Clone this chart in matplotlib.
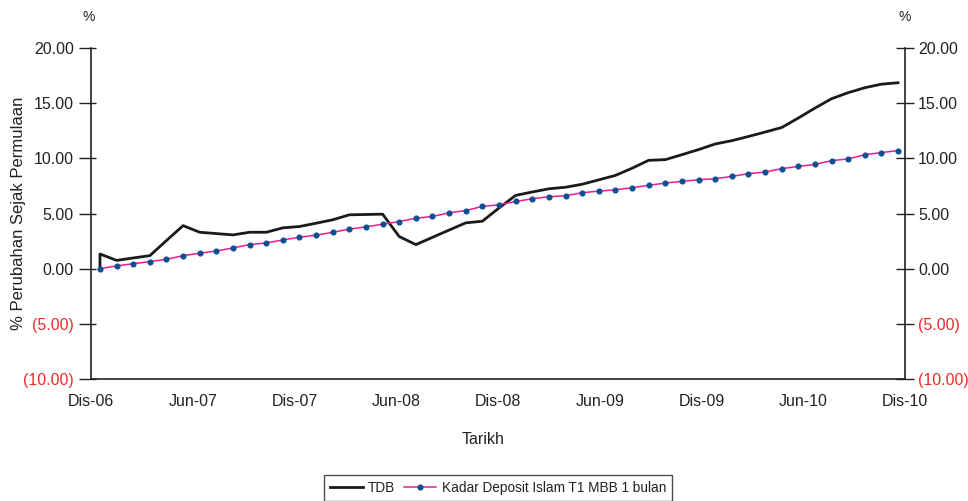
import numpy as np
import matplotlib

matplotlib.use("Agg")
import matplotlib.pyplot as plt
from matplotlib.lines import Line2D
from matplotlib.ticker import FuncFormatter

plt.rcParams["font.family"] = ["Liberation Sans Narrow", "Liberation Sans", "DejaVu Sans"]

# monthly observations, Dis-06 .. Dis-10 (49 months)
TDB_START = 0.0
TDB = [1.33, 0.75, 0.97, 1.18, 2.55, 3.90, 3.30, 3.18, 3.06, 3.30,
       3.30, 3.70, 3.82, 4.12, 4.43, 4.88, 4.91, 4.94, 2.91, 2.18,
       2.84, 3.50, 4.15, 4.30, 5.50, 6.64, 6.95, 7.24, 7.38, 7.65,
       8.05, 8.45, 9.10, 9.82, 9.88, 10.33, 10.79, 11.30, 11.60, 11.98,
       12.38, 12.79, 13.65, 14.55, 15.40, 15.95, 16.40, 16.72, 16.85]
DEPOSIT = [0.00, 0.25, 0.45, 0.64, 0.85, 1.18, 1.40, 1.60, 1.88, 2.18,
           2.33, 2.60, 2.85, 3.03, 3.30, 3.58, 3.79, 4.03, 4.27, 4.57,
           4.73, 5.06, 5.27, 5.64, 5.79, 6.09, 6.33, 6.52, 6.61, 6.88,
           7.03, 7.15, 7.33, 7.56, 7.76, 7.91, 8.06, 8.15, 8.36, 8.61,
           8.76, 9.06, 9.27, 9.45, 9.79, 9.94, 10.33, 10.52, 10.70]
X_LABELS = ["Dis-06", "Jun-07", "Dis-07", "Jun-08", "Dis-08",
            "Jun-09", "Dis-09", "Jun-10", "Dis-10"]
Y_TICKS = [-10, -5, 0, 5, 10, 15, 20]

RED = "#ee2a2a"
TXT = "#222222"
PINK = "#ee1b8c"
BLUE = "#0d4f94"


def fmt(v, pos=None):
    return f"({abs(v):.2f})" if v < 0 else f"{v:.2f}"


def style_ylabels(axis):
    for lab, v in zip(axis.get_yticklabels(), Y_TICKS):
        lab.set_color(RED if v < 0 else TXT)


fig = plt.figure(figsize=(9.68, 5.01), dpi=100)
ax = fig.add_axes([91 / 968, 1 - 379 / 501, (905 - 91) / 968, (379 - 48) / 501])

months = np.arange(len(TDB))
ax.plot(np.r_[0, months], np.r_[TDB_START, TDB], color="#1a1a1a", lw=2.0,
        solid_joinstyle="round", zorder=3)
ax.plot(np.arange(len(DEPOSIT)), DEPOSIT, color=PINK, lw=1.1, marker="o",
        ms=3.4, mfc=BLUE, mec=BLUE, zorder=4)

x_lo, x_hi = -0.54, 48.42
ax.set_xlim(x_lo, x_hi)
ax.set_ylim(-10, 20)
ax.set_xticks(np.linspace(x_lo, x_hi, len(X_LABELS)))
ax.set_xticklabels(X_LABELS)
ax.tick_params(axis="x", length=0, pad=11, labelsize=11.5, labelcolor=TXT)

ax.set_yticks(Y_TICKS)
ax.yaxis.set_major_formatter(FuncFormatter(fmt))
ax.set_yticks(Y_TICKS, minor=True)
ax.yaxis.remove_overlapping_locs = False
ax.tick_params(axis="y", which="major", direction="out", length=8.5, width=1.0,
               pad=4, labelsize=11.5, color=TXT)
ax.tick_params(axis="y", which="minor", direction="in", length=3.6, width=1.0,
               color=TXT)
style_ylabels(ax)

for s in ["top", "right"]:
    ax.spines[s].set_visible(False)
for s in ["left", "bottom"]:
    ax.spines[s].set_linewidth(1.2)
    ax.spines[s].set_color(TXT)

ax2 = ax.twinx()
ax2.set_ylim(-10, 20)
ax2.set_yticks(Y_TICKS)
ax2.yaxis.set_major_formatter(FuncFormatter(fmt))
ax2.tick_params(axis="y", direction="inout", length=13, width=1.0, pad=3,
                labelsize=11.5, color=TXT)
style_ylabels(ax2)
for s in ["top", "left", "bottom"]:
    ax2.spines[s].set_visible(False)
ax2.spines["right"].set_linewidth(1.2)
ax2.spines["right"].set_color(TXT)

ax.set_ylabel("% Perubahan Sejak Permulaan", fontsize=12, color=TXT)
ax.yaxis.set_label_coords((26 - 91) / 814, 0.5)
fig.text(89 / 968, 1 - 17 / 501, "%", fontsize=10, color=TXT, ha="center", va="center")
fig.text(905 / 968, 1 - 17 / 501, "%", fontsize=10, color=TXT, ha="center", va="center")
fig.text(483 / 968, 1 - 439 / 501, "Tarikh", fontsize=11.5, color=TXT,
         ha="center", va="center")

handles = [Line2D([], [], color="#1a1a1a", lw=2.0),
           Line2D([], [], color=PINK, lw=1.1, marker="o", ms=3.4, mfc=BLUE, mec=BLUE)]
leg = fig.legend(handles, ["TDB", "Kadar Deposit Islam T1 MBB 1 bulan"],
                 loc="upper center", bbox_to_anchor=(498 / 968, 1 - 475 / 501),
                 ncol=2, fontsize=9.8, frameon=True, fancybox=False,
                 handlelength=2.4, columnspacing=0.6, handletextpad=0.4,
                 borderpad=0.45, borderaxespad=0)
leg.get_frame().set_edgecolor("#222222")
leg.get_frame().set_linewidth(1.0)
for t in leg.get_texts():
    t.set_color(TXT)

fig.savefig("out.png", dpi=100)
